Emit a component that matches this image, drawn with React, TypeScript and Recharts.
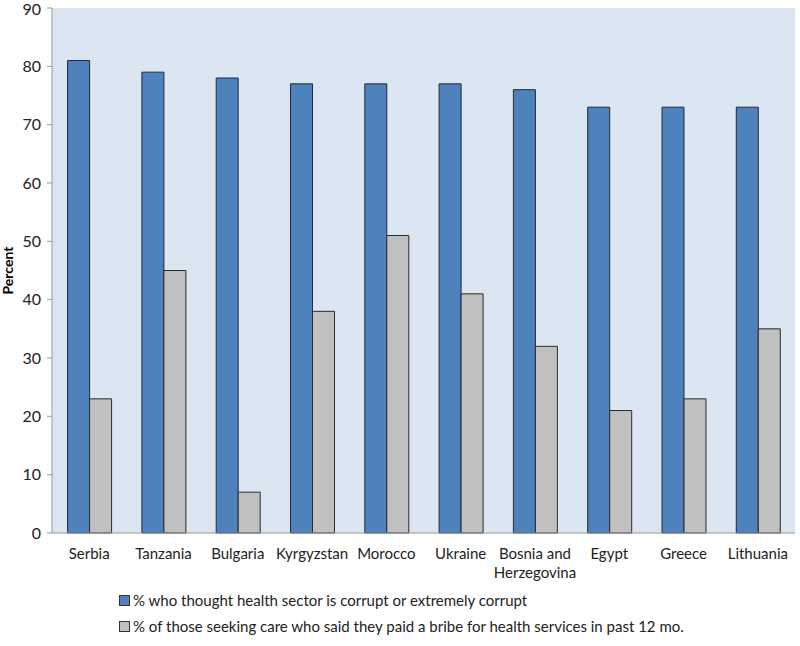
import React from 'react';
import { BarChart, Bar, XAxis, YAxis, CartesianGrid, Legend, Label } from 'recharts';

const countries = ['Serbia', 'Tanzania', 'Bulgaria', 'Kyrgyzstan', 'Morocco', 'Ukraine', 'Bosnia and Herzegovina', 'Egypt', 'Greece', 'Lithuania'];
const corrupt = [81, 79, 78, 77, 77, 77, 76, 73, 73, 73];
const bribe = [23, 45, 7, 38, 51, 41, 32, 21, 23, 35];
const yTicks = [0, 10, 20, 30, 40, 50, 60, 70, 80, 90];
const boundaryTicks = [0, 1, 2, 3, 4, 5, 6, 7, 8, 9, 10];
const seriesNames = [
  '% who thought health sector is corrupt or extremely corrupt',
  '% of those seeking care who said they paid a bribe for health services in past 12 mo.',
];

const data = countries.map((c, i) => ({ country: c, corrupt: corrupt[i], bribe: bribe[i] }));

const FONT = 'Lato, "Open Sans", sans-serif';

const CategoryTick = (props: any) => {
  const { x, y, payload } = props;
  const label: string = payload.value;
  const lines = label === 'Bosnia and Herzegovina' ? ['Bosnia and', 'Herzegovina'] : [label];
  return (
    <text x={x} y={y + 6} textAnchor="middle" fontSize={15} fill="#222" fontFamily={FONT}>
      {lines.map((l, i) => (
        <tspan key={i} x={x} dy={i === 0 ? 12 : 19}>{l}</tspan>
      ))}
    </text>
  );
};

const PercentLabel = (props: any) => {
  const vb = props.viewBox || {};
  const cx = 13;
  const cy = vb.y + vb.height / 2;
  return (
    <text x={cx} y={cy} transform={`rotate(-90, ${cx}, ${cy})`} textAnchor="middle" fontSize={14} fontWeight="bold" fontFamily={FONT} fill="#000">
      Percent
    </text>
  );
};

const LegendContent = () => {
  const colors = ['#4f81bd', '#c0c0c0'];
  return (
    <div style={{ paddingLeft: 119, paddingTop: 3, fontFamily: FONT, fontSize: 15, color: '#222' }}>
      {seriesNames.map((n, i) => (
        <div key={i} style={{ display: 'flex', alignItems: 'center', height: 26 }}>
          <span style={{ display: 'inline-block', width: 9, height: 9, background: colors[i], border: '1px solid #333', marginRight: 3 }} />
          <span>{n}</span>
        </div>
      ))}
    </div>
  );
};

export default function App() {
  return (
    <div style={{ position: 'absolute', left: 0, top: 0, width: 800, height: 646, background: '#fff' }}>
      <BarChart
        width={800}
        height={646}
        data={data}
        margin={{ top: 8, right: 5, left: 0, bottom: 0 }}
        barCategoryGap="21%"
        barGap={0}
      >
        <CartesianGrid fill="#dce6f2" stroke="none" horizontal={false} vertical={false} />
        <XAxis
          dataKey="country"
          tick={<CategoryTick />}
          tickLine={false}
          axisLine={{ stroke: '#999' }}
          interval={0}
          height={50}
        />
        <XAxis
          xAxisId="b"
          type="number"
          domain={[0, 10]}
          ticks={boundaryTicks}
          tick={false}
          tickLine={{ stroke: '#999' }}
          tickSize={5}
          axisLine={false}
          height={1}
        />
        <YAxis
          domain={[0, 90]}
          ticks={yTicks}
          width={52}
          tick={{ fontSize: 16, fill: '#222', fontFamily: FONT }}
          tickLine={{ stroke: '#999' }}
          axisLine={{ stroke: '#999' }}
          tickSize={5}
          tickMargin={6}
        >
          <Label content={<PercentLabel />} />
        </YAxis>
        <Legend verticalAlign="bottom" align="left" height={62} content={<LegendContent />} />
        <Bar dataKey="corrupt" name={seriesNames[0]} fill="#4f81bd" stroke="#1f2a3a" strokeWidth={1} isAnimationActive={false} />
        <Bar dataKey="bribe" name={seriesNames[1]} fill="#c0c0c0" stroke="#2a2a2a" strokeWidth={1} isAnimationActive={false} />
      </BarChart>
    </div>
  );
}
